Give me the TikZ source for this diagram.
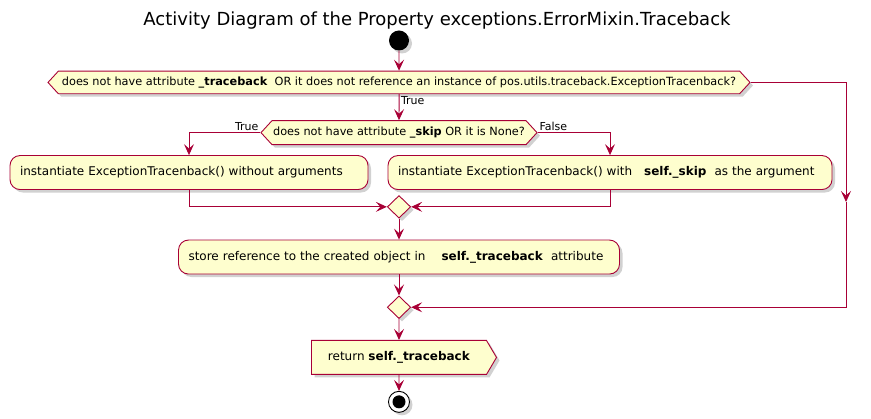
\documentclass[tikz,border=0pt]{standalone}
\usepackage{fontspec}
\setmainfont{DejaVu Sans}
\usepackage{xcolor}
\usetikzlibrary{arrows.meta, positioning, shapes.geometric, shapes.symbols, shadows}
\definecolor{umlred}{HTML}{A80036}
\definecolor{umlfill}{HTML}{FEFECE}

\begin{document}
\begin{tikzpicture}[x=1pt, y=-1pt,
  shadowed/.style={drop shadow={shadow xshift=3pt, shadow yshift=-3pt, opacity=0.3, fill=black!60}},
  actbox/.style={rectangle, draw=umlred, fill=umlfill, rounded corners=10pt, line width=0.9pt,
    minimum height=34pt, inner xsep=10pt, align=left, font=\fontsize{12}{14}\selectfont, shadowed},
  decbox/.style={shape=signal, signal to=west and east, signal pointer angle=95, draw=umlred,
    fill=umlfill, line width=0.9pt, inner sep=0pt, font=\fontsize{11.3}{13}\selectfont, shadowed},
  retbox/.style={shape=signal, signal to=east, signal pointer angle=119, draw=umlred,
    fill=umlfill, line width=0.9pt, inner sep=0pt, minimum width=185pt, minimum height=34pt,
    font=\fontsize{12}{14}\selectfont, shadowed},
  mergebox/.style={diamond, draw=umlred, fill=umlfill, line width=0.9pt, inner sep=0pt,
    minimum width=23.4pt, minimum height=22.6pt, shadowed},
  startdot/.style={circle, fill=black, minimum size=20pt, inner sep=0pt, shadowed},
  enddot/.style={circle, draw=black, fill=white, line width=0.9pt, minimum size=21pt, inner sep=0pt,
    path picture={\fill[black] (path picture bounding box.center) circle (6.5pt);}, shadowed},
  lbl/.style={font=\fontsize{11}{13}\selectfont, inner sep=1.5pt},
  flow/.style={draw=umlred, line width=0.9pt, -{Stealth[length=11pt, width=10pt, inset=4.5pt]}},
]
  \useasboundingbox (0,0) rectangle (871,419);

  \node[font=\fontsize{18}{21}\selectfont] (title) at (437,21)
    {Activity Diagram of the Property exceptions.ErrorMixin.Traceback};
  \node[startdot] (start) at (399,40.5) {};

  \node[decbox, minimum width=702pt, minimum height=22.6pt, below=20pt of start] (dec1)
    {does not have attribute \textbf{\_traceback}\ \ OR it does not reference an instance of pos.utils.traceback.ExceptionTracenback?};
  \node[decbox, minimum width=276pt, minimum height=24pt, below=26pt of dec1] (dec2)
    {does not have attribute \textbf{\_skip} OR it is None?};

  \node[actbox, text width=338pt, below=10pt of dec2, xshift=-210pt] (inst1)
    {instantiate ExceptionTracenback() without arguments};
  \node[actbox, text width=424pt, below=10pt of dec2, xshift=211pt] (inst2)
    {instantiate ExceptionTracenback() with\ \ \ \textbf{self.\_skip}\ \ as the argument};
  \node[mergebox, below=50pt of dec2] (merge1) {};

  \node[actbox, text width=421pt, below=21pt of merge1] (store)
    {store reference to the created object in\hspace{16pt}\textbf{self.\_traceback}\ \ attribute};
  \node[mergebox, below=21pt of store] (merge2) {};
  \node[retbox, below=21pt of merge2] (ret) {return \textbf{self.\_traceback}\hspace{32pt}};
  \node[enddot, below=16pt of ret] (stop) {};

  \coordinate (skipdown) at (846,202);

  \draw[flow] (start) -- (dec1);
  \draw[flow] (dec1) -- node[lbl, anchor=north west, pos=0] (lbltrue1) {True} (dec2);
  \draw[flow] (dec2.west) -| node[lbl, anchor=south east, pos=0] (lbltrue2) {True} (inst1.north);
  \draw[flow] (dec2.east) -| node[lbl, anchor=south west, pos=0] (lblfalse2) {False} (inst2.north);
  \draw[flow] (inst1.south) |- (merge1.west);
  \draw[flow] (inst2.south) |- (merge1.east);
  \draw[flow] (merge1) -- (store);
  \draw[flow] (store) -- (merge2);
  \draw[flow] (dec1.east) -| (skipdown);
  \draw[flow] (skipdown) |- (merge2.east);
  \draw[flow] (merge2) -- (ret);
  \draw[flow] (ret) -- (stop);
\end{tikzpicture}
\end{document}
